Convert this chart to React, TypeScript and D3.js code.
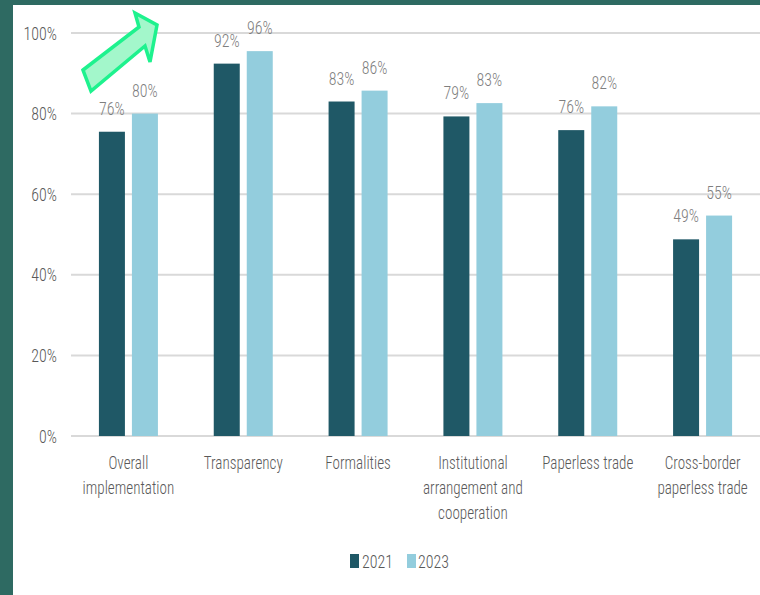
import React from "react";
import * as d3 from "d3";

const categories: string[][] = [
  ["Overall", "implementation"],
  ["Transparency"],
  ["Formalities"],
  ["Institutional", "arrangement and", "cooperation"],
  ["Paperless trade"],
  ["Cross-border", "paperless trade"],
];
const series2021 = [75.5, 92.4, 83.0, 79.3, 75.9, 48.8];
const series2023 = [80.0, 95.5, 85.7, 82.6, 81.8, 54.7];
const seriesNames = ["2021", "2023"];
const yTicks = [0, 20, 40, 60, 80, 100];

const W = 760;
const H = 595;
const FONT = "'Roboto Condensed', 'Liberation Sans Narrow', 'Arial Narrow', Roboto, sans-serif";
const C1 = "#1f5866";
const C2 = "#93cddd";
const SX = 0.84;

function T({
  x,
  y,
  anchor = "start",
  size,
  fill,
  dy,
  children,
}: {
  x: number;
  y: number;
  anchor?: "start" | "middle" | "end";
  size: number;
  fill: string;
  dy?: string;
  children: React.ReactNode;
}) {
  return (
    <text
      transform={`translate(${x},${y}) scale(${SX},1)`}
      x={0}
      y={0}
      dy={dy}
      textAnchor={anchor}
      fontFamily={FONT}
      fontWeight={300}
      fontSize={size}
      fill={fill}
    >
      {children}
    </text>
  );
}

export default function App() {
  const x0 = d3
    .scaleBand<number>()
    .domain(d3.range(categories.length))
    .range([71, 760])
    .paddingInner(0)
    .paddingOuter(0);
  const y = d3.scaleLinear().domain([0, 100]).range([436, 33]);
  const barW = 26;
  const gap = 7;
  const groups = [series2021, series2023];
  const colors = [C1, C2];

  return (
    <svg width={W} height={H} style={{ position: "absolute", left: 0, top: 0 }}>
      <rect x={0} y={0} width={W} height={H} fill="#2e6a62" />
      <rect x={13} y={5} width={W - 13} height={H - 5} fill="#ffffff" />
      {yTicks.map((t) => (
        <g key={t}>
          <line x1={71} x2={760} y1={y(t)} y2={y(t)} stroke="#d9d9d9" strokeWidth={2} />
          <T x={57} y={y(t)} dy="0.35em" anchor="end" size={19} fill="#595959">
            {t}%
          </T>
        </g>
      ))}
      {categories.map((cat, i) => {
        const cx = (x0(i) as number) + x0.bandwidth() / 2;
        return (
          <g key={i}>
            {groups.map((s, k) => {
              const bx = k === 0 ? cx - gap / 2 - barW : cx + gap / 2;
              return (
                <g key={k}>
                  <rect x={bx} y={y(s[i])} width={barW} height={y(0) - y(s[i])} fill={colors[k]} />
                  <T x={bx + barW / 2} y={y(s[i]) - 17} anchor="middle" size={19} fill="#7f7f7f">
                    {Math.round(s[i])}%
                  </T>
                </g>
              );
            })}
            {cat.map((line, j) => (
              <T key={j} x={cx} y={469 + j * 25} anchor="middle" size={18} fill="#595959">
                {line}
              </T>
            ))}
          </g>
        );
      })}
      {/* legend */}
      <rect x={350} y={554} width={9} height={14} fill={C1} />
      <T x={362} y={568} size={19} fill="#595959">
        {seriesNames[0]}
      </T>
      <rect x={407} y={554} width={9} height={14} fill={C2} />
      <T x={418} y={568} size={19} fill="#595959">
        {seriesNames[1]}
      </T>
      {/* arrow annotation */}
      <polygon
        points="83,70 139,27 135,13 157,25 150,62 145,46 91,91"
        fill="#a3f7cb"
        stroke="#1ef28e"
        strokeWidth={3.5}
        strokeLinejoin="miter"
      />
    </svg>
  );
}
